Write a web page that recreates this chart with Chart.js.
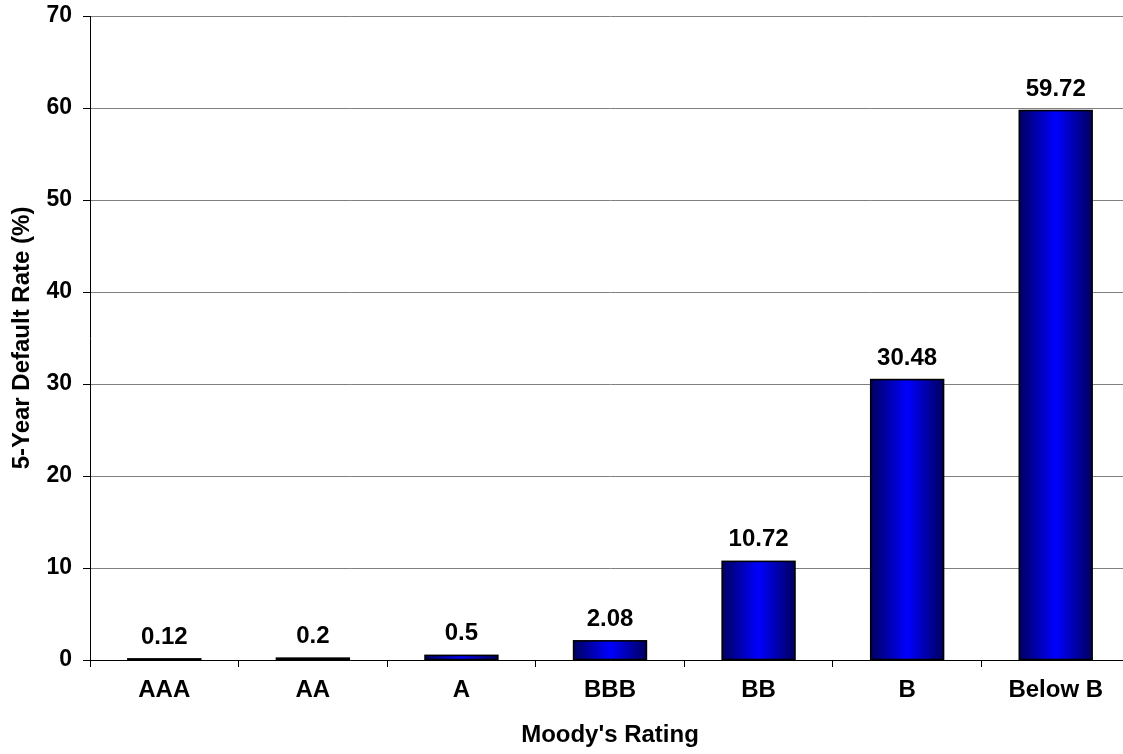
<!DOCTYPE html>
<html>
<head>
<meta charset="utf-8">
<script src="https://cdn.jsdelivr.net/npm/chart.js@4/dist/chart.umd.min.js"></script>
<style>
  html, body { margin: 0; padding: 0; background: #fff; overflow: hidden; }
  #wrap { position: relative; width: 1130px; height: 754px; }
</style>
</head>
<body>
<div id="wrap"><canvas id="c"></canvas></div>
<script>
const ratings = ['AAA', 'AA', 'A', 'BBB', 'BB', 'B', 'Below B'];
const defaultRates = [0.12, 0.2, 0.5, 2.08, 10.72, 30.48, 59.72];
const yTicks = [0, 10, 20, 30, 40, 50, 60, 70];

const FONT = '"Liberation Sans", Arial, sans-serif';
const BAR_PCT = 0.49;

// Horizontal navy-to-blue shading across each bar
function barFill(ctx) {
  const chart = ctx.chart;
  const x = chart.scales && chart.scales.x;
  if (!x || ctx.dataIndex === undefined) return '#0000ff';
  const cx = x.getPixelForValue(ctx.dataIndex);
  const half = (x.width / ratings.length) * BAR_PCT / 2;
  if (!Number.isFinite(cx) || !Number.isFinite(half) || half <= 0) return '#0000ff';
  const g = chart.ctx.createLinearGradient(cx - half, 0, cx + half, 0);
  g.addColorStop(0, '#000060');
  g.addColorStop(0.5, '#0000ff');
  g.addColorStop(1, '#000060');
  return g;
}

// Black outline stroked on the bar edges (stays visible on very short bars),
// then the value printed above each bar
const barOutlineAndValues = {
  id: 'barOutlineAndValues',
  afterDatasetsDraw(chart) {
    const c = chart.ctx;
    const meta = chart.getDatasetMeta(0);
    c.save();
    c.strokeStyle = '#000';
    c.lineWidth = 1.6;
    meta.data.forEach(bar => {
      const p = bar.getProps(['x', 'y', 'base', 'width']);
      c.strokeRect(p.x - p.width / 2, p.y, p.width, p.base - p.y);
    });
    c.font = 'bold 24px ' + FONT;
    c.fillStyle = '#000';
    c.textAlign = 'center';
    c.textBaseline = 'alphabetic';
    meta.data.forEach((bar, i) => {
      c.fillText(String(defaultRates[i]), bar.x, bar.y - 15);
    });
    c.restore();
  }
};

new Chart(document.getElementById('c'), {
  type: 'bar',
  data: {
    labels: ratings,
    datasets: [{
      data: defaultRates,
      backgroundColor: barFill,
      borderWidth: 0,
      barPercentage: 1,
      categoryPercentage: BAR_PCT
    }]
  },
  options: {
    responsive: true,
    maintainAspectRatio: false,
    animation: false,
    layout: { padding: { top: 16, right: 0, left: 0, bottom: 0 } },
    plugins: { legend: { display: false }, tooltip: { enabled: false } },
    scales: {
      x: {
        grid: { offset: true, drawOnChartArea: false, drawTicks: true, tickLength: 7, tickColor: '#000' },
        border: { color: '#000', width: 1 },
        ticks: { color: '#000', font: { family: FONT, size: 24, weight: 'bold' }, padding: 9, maxRotation: 0 },
        title: { display: true, text: "Moody's Rating", color: '#000', font: { family: FONT, size: 24, weight: 'bold' }, padding: { top: 0, bottom: 4 } },
        afterFit(s) { s.height = 94; s.paddingLeft = 0; s.paddingRight = 0; }
      },
      y: {
        min: 0,
        max: 70,
        afterBuildTicks(s) { s.ticks = yTicks.map(v => ({ value: v })); },
        grid: { color: '#808080', lineWidth: 1, tickLength: 7, tickColor: '#000' },
        border: { color: '#000', width: 1 },
        ticks: { color: '#000', font: { family: FONT, size: 23, weight: 'bold' }, padding: 11 },
        title: { display: true, text: '5-Year Default Rate (%)', color: '#000', font: { family: FONT, size: 24, weight: 'bold' }, padding: { top: 8, bottom: 0 } },
        afterFit(s) { s.width = 90; s.paddingTop = 0; s.paddingBottom = 0; }
      }
    }
  },
  plugins: [barOutlineAndValues]
});
</script>
</body>
</html>
